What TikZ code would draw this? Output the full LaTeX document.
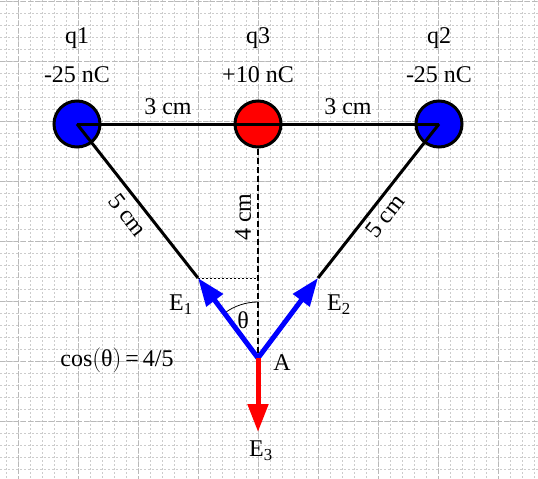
\documentclass[tikz,border=0pt]{standalone}
\usepackage{fontspec}
\setmainfont{Liberation Serif}
\usetikzlibrary{arrows.meta,positioning}

\begin{document}
\begin{tikzpicture}[
        x=1pt, y=1pt,
        every node/.style={font=\fontsize{24}{26}\selectfont, inner sep=1pt},
        charge/.style={circle, draw, line width=3pt, minimum size=46pt, inner sep=0pt},
        link/.style={line width=3pt, black},
        field/.style={line width=5pt, -{Triangle[length=28pt,width=20pt]}},
        minorgrid/.style={gray!40, line width=0.7pt, dash pattern=on 2pt off 2pt},
        majorgrid/.style={gray!55, line width=0.9pt, dash pattern=on 5pt off 2pt}
    ]
    \useasboundingbox (0,0) rectangle (538,-479);

    % Grid
    \foreach \x in {6,18,...,534} \draw[minorgrid] (\x,0) -- (\x,-479);
    \foreach \y in {1,13,...,477} \draw[minorgrid] (0,-\y) -- (538,-\y);
    \foreach \x in {18,78,...,498} \draw[majorgrid] (\x,0) -- (\x,-479);
    \foreach \y in {1,61,...,421} \draw[majorgrid] (0,-\y) -- (538,-\y);

    % Nodes
    \node (q1)[charge, fill=blue] at (77,-124) {};
    \node (q3)[charge, fill=red] at (258,-124) {};
    \node (q2)[charge, fill=blue] at (439,-124) {};
    \coordinate (A) at (258,-358);
    \coordinate (e1) at (198,-278);
    \coordinate (e2) at (318,-278);
    \coordinate (e3) at (258,-432);
    \coordinate (h) at (258,-278);

    \node (n1) at (77,-38) {q1};
    \node (c1) at (77,-75) {-25 nC};
    \node (n3) at (258,-38) {q3};
    \node (c3) at (258,-75) {+10 nC};
    \node (n2) at (439,-38) {q2};
    \node (c2) at (439,-75) {-25 nC};

    \node (d1) at (168,-107) {3 cm};
    \node (d2) at (348,-107) {3 cm};
    \node (s1)[rotate=-52] at (128,-215) {5 cm};
    \node (s2)[rotate=52] at (385,-216) {5 cm};
    \node (s3)[rotate=90] at (243,-217) {4 cm};

    \node (E1) at (181,-305) {E\textsubscript{1}};
    \node (E2) at (339,-305) {E\textsubscript{2}};
    \node (E3) at (261,-451) {E\textsubscript{3}};
    \node (lA) at (282,-363) {A};
    \node (th) at (243,-320) {θ};
    \node (cs) at (117,-360) {cos$\big($θ$\big)$\,=\,4/5};

    % Edges
    \draw[line width=2.5pt, dash pattern=on 6pt off 3pt] (q3.south) -- (A);
    \draw[line width=1pt, dash pattern=on 2pt off 2pt] (e1) -- (h);
    \draw[link] (q1.center) -- (q2.center);
    \draw[link] (q1.center) -- (e1);
    \draw[link] (q2.center) -- (e2);
    \draw[line width=0.8pt] (A) ++(90:56) arc[start angle=90, end angle=126.87, radius=56];
    \draw[field, blue] (A) -- (e1);
    \draw[field, blue] (A) -- (e2);
    \draw[field, red] (A) -- (e3);

\end{tikzpicture}
\end{document}
